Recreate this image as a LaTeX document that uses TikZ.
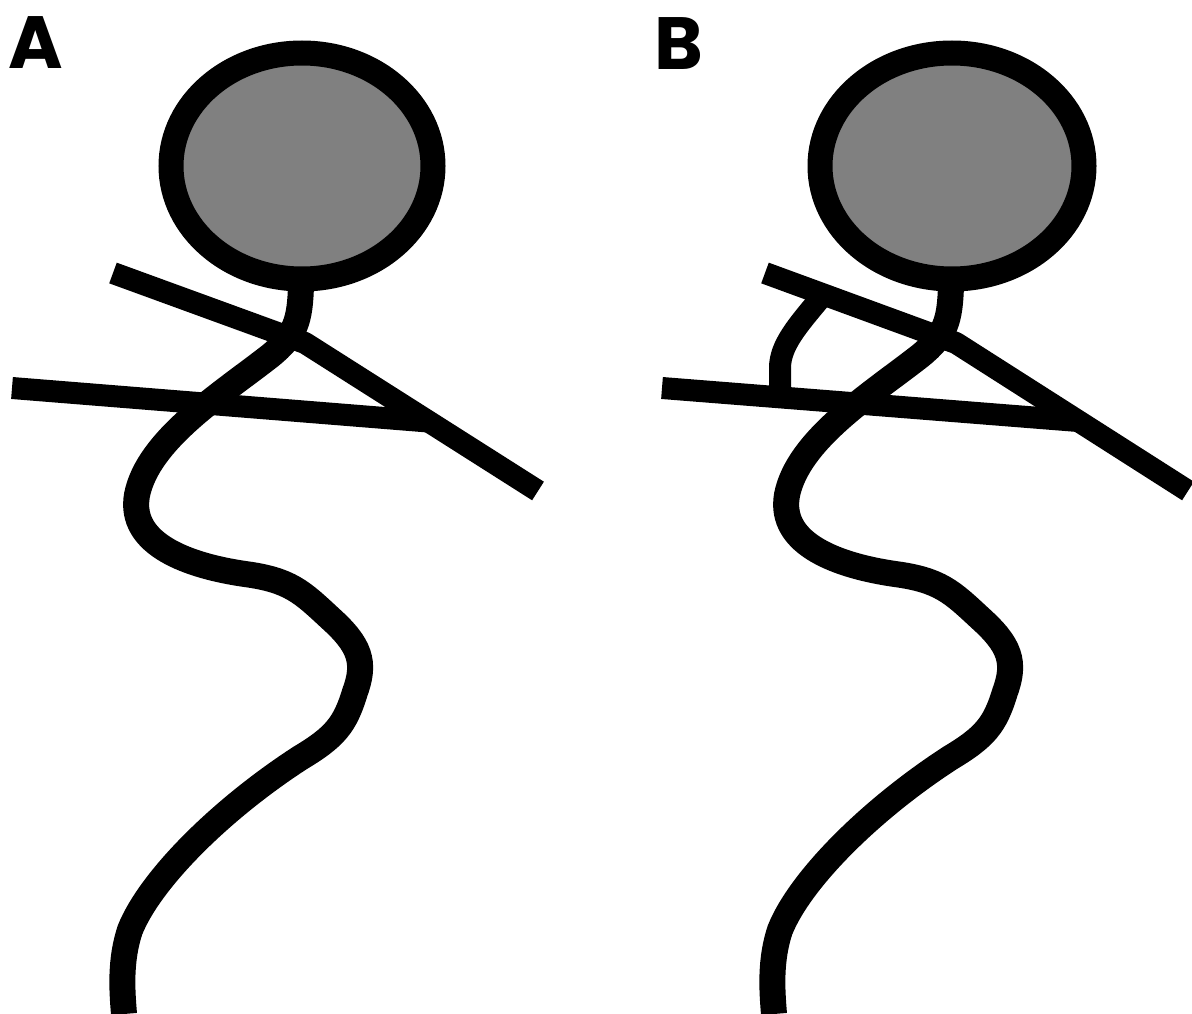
\documentclass[tikz,border=0pt]{standalone}
\usepackage{fontspec}
\setsansfont{Poppins}
\usepackage{tikz}

\tikzset{
  stick/.style={line width=22pt, line cap=butt, line join=round},
  tail/.style={line width=26pt, line cap=butt},
  head/.style={line width=25pt, fill=black!50},
  panel/.style={font=\sffamily\bfseries\fontsize{74}{74}\selectfont, anchor=north west, inner sep=0pt}
}

\begin{document}
\begin{tikzpicture}[x=1pt,y=-1pt]
\useasboundingbox[fill=white] (0,0) rectangle (1192,1014);

% left figure
\node[panel] (labA) at (8,16) {A};
\draw[stick] (113,273) -- (305,343) -- (538,491);
\draw[stick] (12,388) -- (428,421.5);
\draw[tail] (301,285) .. controls (300,320) and (296,335) .. (270,356)
  .. controls (220,395) and (148,440) .. (137,495)
  .. controls (128,545) and (190,566) .. (245,574)
  .. controls (290,580) and (302,592) .. (330,618)
  .. controls (360,645) and (366,662) .. (355,692)
  .. controls (345,725) and (335,737) .. (300,758)
  .. controls (220,810) and (150,880) .. (130,930)
  .. controls (120,960) and (122,990) .. (124,1014);
\draw[head] (302,166) ellipse (131 and 113);

% right figure, with the extra strut
\begin{scope}[xshift=648pt]
\node[panel] (labB) at (6,17) {B};
\draw[stick] (117,273) -- (308,343) -- (540,491);
\draw[stick] (14,388) -- (430,421);
\draw[stick] (132,394) -- (132,368) .. controls (132,345) and (150,325) .. (175,295);
\draw[tail] (303,285) .. controls (302,320) and (298,335) .. (272,356)
  .. controls (222,395) and (150,440) .. (139,495)
  .. controls (130,545) and (192,566) .. (247,574)
  .. controls (292,580) and (304,592) .. (332,618)
  .. controls (362,645) and (368,662) .. (357,692)
  .. controls (347,725) and (337,737) .. (302,758)
  .. controls (222,810) and (152,880) .. (132,930)
  .. controls (122,960) and (124,990) .. (126,1014);
\draw[head] (304,166) ellipse (132 and 113);
\end{scope}

\end{tikzpicture}
\end{document}
